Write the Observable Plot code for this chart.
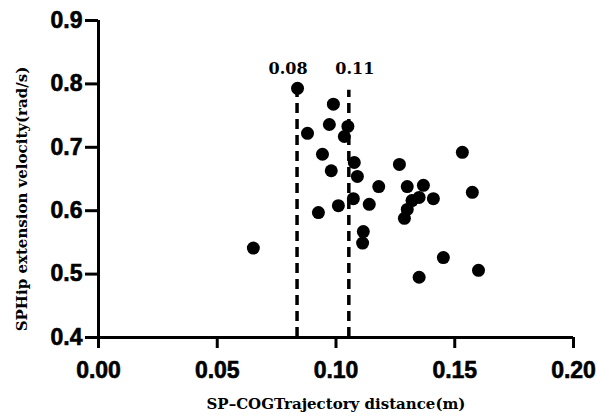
<!DOCTYPE html>
<html>
<head>
<meta charset="utf-8">
<script src="https://cdn.jsdelivr.net/npm/d3@7"></script>
<script src="https://cdn.jsdelivr.net/npm/@observablehq/plot@0.6"></script>
<style>
  html, body { margin: 0; padding: 0; background: #fff; }
</style>
</head>
<body>
<div id="chart"></div>
<script>
const distance = [0.0652, 0.0838, 0.0880, 0.0943, 0.0926, 0.0972, 0.0989, 0.0980, 0.1010, 0.1035,
                  0.1050, 0.1077, 0.1073, 0.1090, 0.1115, 0.1112, 0.1140, 0.1180, 0.1267, 0.1532,
                  0.1300, 0.1368, 0.1350, 0.1320, 0.1410, 0.1574, 0.1300, 0.1288, 0.1452, 0.1350, 0.1600];
const velocity = [0.541, 0.793, 0.722, 0.689, 0.597, 0.736, 0.768, 0.663, 0.608, 0.717,
                  0.733, 0.676, 0.619, 0.654, 0.567, 0.549, 0.610, 0.638, 0.673, 0.692,
                  0.638, 0.640, 0.621, 0.616, 0.619, 0.629, 0.602, 0.588, 0.526, 0.495, 0.506];
const cutoffs = [0.0836, 0.1054];
const cutoffLabels = ["0.08", "0.11"];
const cutoffTop = 0.79;
const xTicks = [0, 0.05, 0.10, 0.15, 0.20];
const yTicks = [0.4, 0.5, 0.6, 0.7, 0.8, 0.9];
const xTitle = "SP\u2013COGTrajectory distance(m)";
const yTitle = "SPHip extension velocity(rad/s)";

const points = distance.map((d, i) => ({x: d, y: velocity[i]}));
const cuts = cutoffs.map((c, i) => ({x: c, label: cutoffLabels[i]}));

const sans = "Liberation Sans, Arial, sans-serif";
const serif = "DejaVu Serif, serif";
const fx = d3.format(".2f");
const fy = d3.format(".1f");
const tickText = {fontFamily: sans, fontWeight: "bold", fontSize: 23, fill: "#000", stroke: "#000", strokeWidth: 0.6};
const cutText = {x: "x", y: 0.824, text: "label", fontFamily: serif, fontWeight: "bold", fontSize: 16, fill: "#000"};

const chart = Plot.plot({
  width: 597,
  height: 418,
  marginLeft: 98,
  marginRight: 24,
  marginTop: 20,
  marginBottom: 81,
  x: {domain: [0, 0.2], axis: null},
  y: {domain: [0.4, 0.9], axis: null},
  marks: [
    Plot.ruleX(cuts, {x: "x", y1: 0.4, y2: cutoffTop, stroke: "#000", strokeWidth: 3.5, strokeDasharray: "10,6"}),
    Plot.dot(points, {x: "x", y: "y", r: 6.5, fill: "#000", stroke: "none"}),
    Plot.text(cuts.slice(0, 1), {...cutText, dx: -9}),
    Plot.text(cuts.slice(1, 2), {...cutText, dx: 6}),
    Plot.text(xTicks, {x: (d) => d, y: 0.4, dy: 33, text: fx, ...tickText}),
    Plot.text(yTicks, {x: 0, y: (d) => d, dx: -16, textAnchor: "end", text: fy, ...tickText}),
    Plot.text([xTitle], {frameAnchor: "bottom", dy: 71, fontFamily: serif, fontWeight: "bold", fontSize: 15, fill: "#000"}),
    Plot.text([yTitle], {frameAnchor: "left", textAnchor: "middle", rotate: -90, dx: -76, dy: 20, fontFamily: serif, fontWeight: "bold", fontSize: 15, fill: "#000"}),
    // axis lines
    Plot.ruleY([0.4], {x1: 0, x2: 0.2, stroke: "#000", strokeWidth: 3}),
    Plot.ruleX([0], {y1: 0.4, y2: 0.9, stroke: "#000", strokeWidth: 3}),
    // ticks
    Plot.ruleX(xTicks, {x: (d) => d, y1: 0.4, y2: 0.4, insetBottom: -11, stroke: "#000", strokeWidth: 3}),
    Plot.ruleY(yTicks, {y: (d) => d, x1: 0, x2: 0, insetLeft: -13, stroke: "#000", strokeWidth: 3})
  ]
});
document.getElementById("chart").appendChild(chart);
</script>
</body>
</html>
